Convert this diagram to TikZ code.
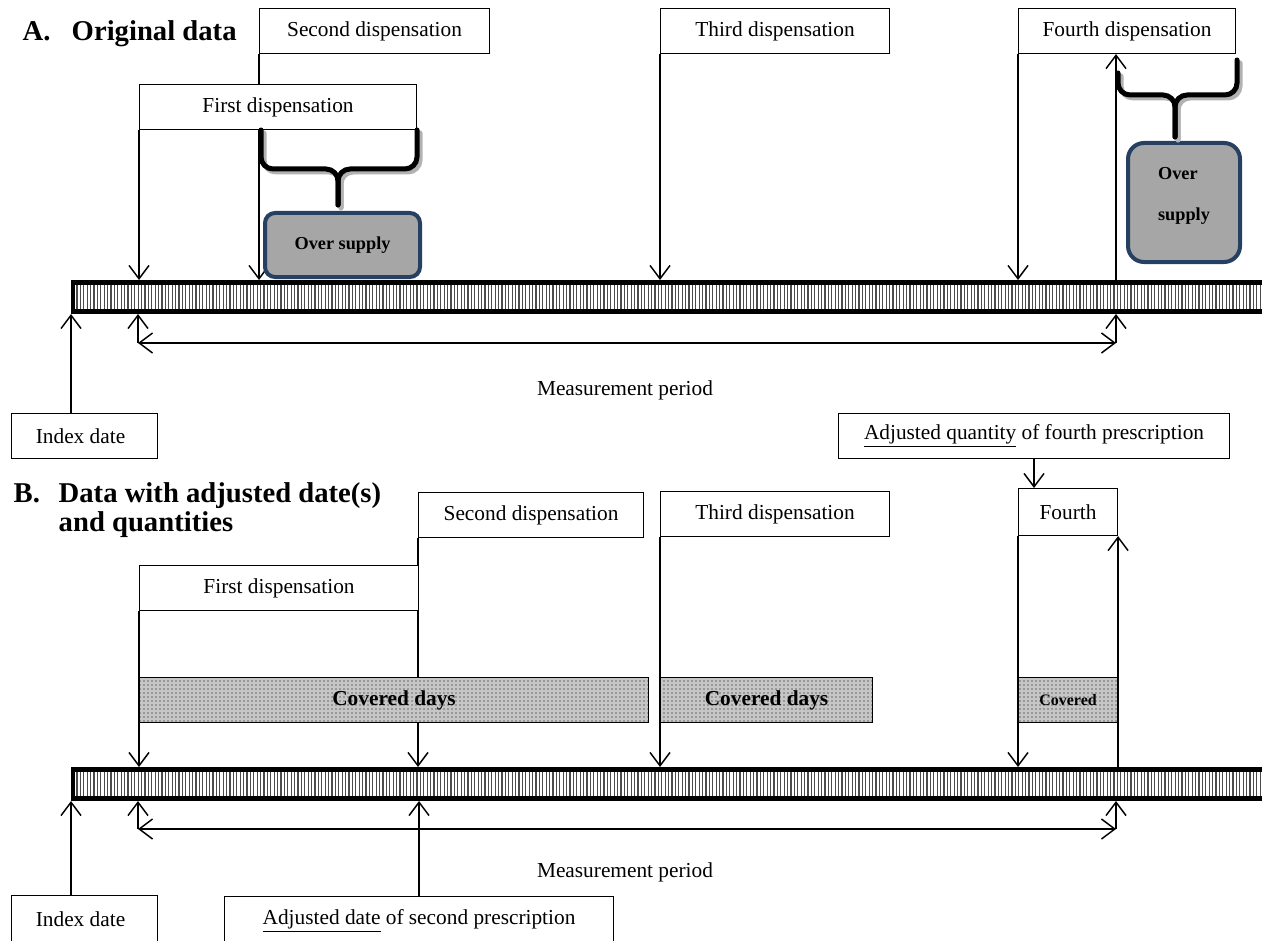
\documentclass[tikz,border=0pt]{standalone}
\usepackage{fontspec}
\setmainfont{Liberation Serif}
\usetikzlibrary{arrows.meta,patterns,backgrounds}
\definecolor{cnavy}{RGB}{37,64,97}
\definecolor{cgray}{RGB}{166,166,166}
\newcommand{\pxu}{0.75pt}

\begin{document}
\begin{tikzpicture}[x=0.75pt,y=-0.75pt,>={Straight Barb[length=10pt,width=15pt]},
  line width=1.1pt,
  label box/.style={draw,fill=white,line width=0.8pt,inner sep=0pt,minimum height=45*\pxu,
    anchor=north west,font=\fontsize{16}{19}\selectfont},
  over box/.style={draw=cnavy,fill=cgray,line width=3pt,rounded corners=7.5pt,inner sep=0pt,
    anchor=north west,font=\fontsize{13.7}{16}\selectfont\bfseries},
  cover box/.style={draw,line width=0.8pt,preaction={fill=gray!45},pattern=dots,inner sep=0pt,
    minimum height=45*\pxu,anchor=north west,font=\fontsize{16}{19}\selectfont\bfseries},
  heading/.style={inner sep=0pt,anchor=base west,font=\fontsize{21.5}{29}\selectfont\bfseries},
  brace/.style={line width=3.75pt,line cap=round,rounded corners=9pt},
  connector/.style={->,line width=1.1pt},
  plain text/.style={inner sep=0pt,font=\fontsize{16}{19}\selectfont}]
  \useasboundingbox (0,0) rectangle (1262,941);

  % time bars
  \foreach \y in {280,767}{
    \fill (71,\y) rectangle (1270,\y+34);
    \fill[white] (75,\y+5) rectangle (1270,\y+29);
    \foreach \x in {77,80.4,...,1262}
      \draw[line width=1pt,black!70] (\x,\y+5) -- (\x,\y+29);
  }
  \coordinate (barAtop) at (0,280);
  \coordinate (barAbot) at (0,314);
  \coordinate (barBtop) at (0,767);
  \coordinate (barBbot) at (0,801);
  \coordinate (barleft) at (71,0);

  % A. original data
  \node[heading] (headA) at (22,41) {\makebox[36.75pt][l]{A.}Original data};
  \node[label box,minimum width=230*\pxu] (secA) at (259,8) {Second dispensation};
  \node[label box,minimum width=277*\pxu] (firstA) at (139,84) {First dispensation};
  \node[label box,minimum width=229*\pxu] (thirdA) at (660,8) {Third dispensation};
  \node[label box,minimum width=217*\pxu] (fourthA) at (1018,8) {Fourth dispensation};
  \node[over box,minimum width=155*\pxu,minimum height=64*\pxu] (overA) at (263,211) {Over supply};
  \node[over box,minimum width=112*\pxu,minimum height=119*\pxu,rounded corners=12pt,align=left,
    text depth=13pt] (overA2) at (1126,141) {Over\\[15pt]supply};
  \node[plain text] (measA) at (625,390) {Measurement period};
  \node[label box,minimum width=146*\pxu] (indexA) at (11,413) {Index date\hspace*{6pt}};

  \foreach \c/\d in {gray!60/3,black/0}{
    \draw[brace,\c,shift={(\d,\d)}] (261,130) |- (338,169) -- (338,205);
    \draw[brace,\c,shift={(\d,\d)}] (417,130) |- (338,169) -- (338,205);
    \draw[brace,\c,shift={(\d,\d)}] (1118,73) |- (1175,95) -- (1175,137);
    \draw[brace,\c,shift={(\d,\d)}] (1237,60) |- (1175,95) -- (1175,137);
  }

  \coordinate (endAtop) at (1116,280);
  \coordinate (startA) at (138,343);
  \coordinate (endA) at (1116,343);
  \begin{scope}[on background layer]
    \draw[connector] (firstA.south west) -- (firstA.south west |- barAtop);
    \draw[connector] (secA.south west) -- (secA.south west |- barAtop);
    \draw[connector] (thirdA.south west) -- (thirdA.south west |- barAtop);
    \draw[connector] (fourthA.south west) -- (fourthA.south west |- barAtop);
  \end{scope}
  \draw[connector] (endAtop) -- (endAtop |- fourthA.south);
  \draw[<->] (startA) -- (endA);
  \draw[connector] (startA) -- (startA |- barAbot);
  \draw[connector] (endA) -- (endA |- barAbot);
  \draw[connector] (barleft |- indexA.north) -- (barleft |- barAbot);

  % B. adjusted dates and quantities
  \node[heading] (headB) at (13,502) {\makebox[33.75pt][l]{B.}Data with adjusted date(s)};
  \node[heading] (headB2) at (58,531) {and quantities};
  \node[label box,minimum width=391*\pxu] (adjQ) at (838,413) {\underline{Adjusted quantity} of fourth prescription};
  \node[label box,minimum width=225*\pxu] (secB) at (418,492) {Second dispensation};
  \node[label box,minimum width=229*\pxu] (thirdB) at (660,491) {Third dispensation};
  \node[label box,minimum width=99*\pxu,minimum height=47*\pxu] (fourthB) at (1018,488) {Fourth};
  \node[label box,minimum width=279*\pxu] (firstB) at (139,565) {First dispensation};
  \node[cover box,minimum width=509*\pxu] (covB1) at (139,677) {Covered days};
  \node[cover box,minimum width=212*\pxu] (covB2) at (660,677) {Covered days};
  \node[cover box,minimum width=99*\pxu,font=\fontsize{12}{14}\selectfont\bfseries] (covB3) at (1018,677) {Covered};
  \node[plain text] (measB) at (625,872) {Measurement period};
  \node[label box,minimum width=146*\pxu,minimum height=48*\pxu] (indexB) at (11,895) {Index date\hspace*{6pt}};
  \node[label box,minimum width=389*\pxu,minimum height=48*\pxu] (adjD) at (224,896) {\underline{Adjusted date} of second prescription};

  \coordinate (startB) at (138,829);
  \coordinate (endB) at (1116,829);
  \begin{scope}[on background layer]
    \draw[connector] (firstB.south west) -- (firstB.south west |- barBtop);
    \draw[connector] (secB.south west) -- (secB.south west |- barBtop);
    \draw[connector] (thirdB.south west) -- (thirdB.south west |- barBtop);
    \draw[connector] (fourthB.south west) -- (fourthB.south west |- barBtop);
    \draw[connector] (fourthB.south east |- barBtop) -- (fourthB.south east);
  \end{scope}
  \draw[connector] (adjQ.south) -- (adjQ.south |- fourthB.north);
  \draw[<->] (startB) -- (endB);
  \draw[connector] (startB) -- (startB |- barBbot);
  \draw[connector] (endB) -- (endB |- barBbot);
  \draw[connector] (barleft |- indexB.north) -- (barleft |- barBbot);
  \draw[connector] (adjD.north) -- (adjD.north |- barBbot);
\end{tikzpicture}
\end{document}
